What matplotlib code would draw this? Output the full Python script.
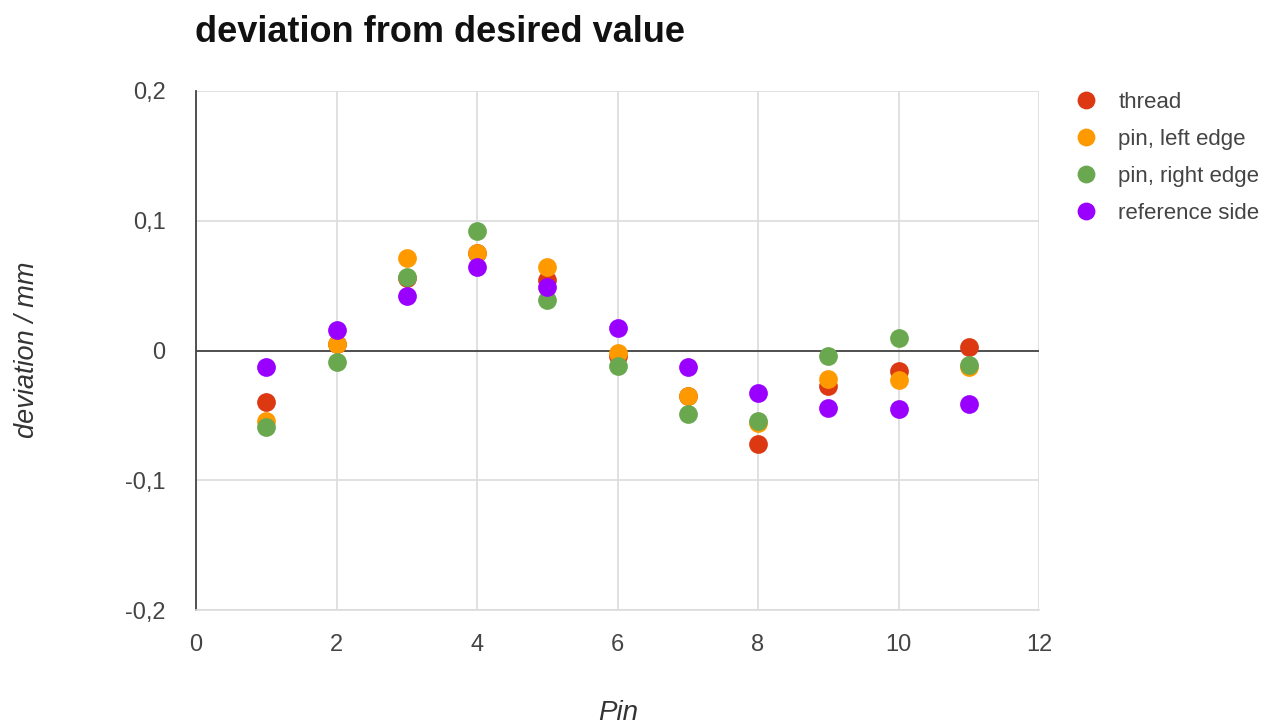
import matplotlib
matplotlib.use("Agg")
import matplotlib.pyplot as plt
from matplotlib.ticker import FuncFormatter

plt.rcParams['font.family'] = ['Liberation Sans', 'DejaVu Sans']

pins = [1, 2, 3, 4, 5, 6, 7, 8, 9, 10, 11]
thread = [-0.040, 0.005, 0.056, 0.075, 0.054, -0.004, -0.035, -0.072, -0.027, -0.016, 0.003]
pin_left = [-0.054, 0.005, 0.071, 0.075, 0.064, -0.002, -0.035, -0.056, -0.022, -0.023, -0.013]
pin_right = [-0.059, -0.009, 0.057, 0.092, 0.039, -0.012, -0.049, -0.054, -0.004, 0.010, -0.011]
reference = [-0.013, 0.016, 0.042, 0.064, 0.049, 0.017, -0.013, -0.033, -0.044, -0.045, -0.041]

series = [
    ("thread", thread, "#DC3912"),
    ("pin, left edge", pin_left, "#FF9900"),
    ("pin, right edge", pin_right, "#6AA84F"),
    ("reference side", reference, "#9900FF"),
]

x_ticks = [0, 2, 4, 6, 8, 10, 12]
y_ticks = [-0.2, -0.1, 0, 0.1, 0.2]

fig = plt.figure(figsize=(12.65, 7.28), dpi=100)
ax = fig.add_axes([196/1265, 1-610/728, (1039-196)/1265, (610-91)/728])

for name, vals, col in series:
    ax.plot(pins, vals, linestyle='none', marker='o', markersize=13.5,
            color=col, markeredgewidth=0, label=name, zorder=3)

ax.set_xlim(0, 12)
ax.set_ylim(-0.2, 0.2)
ax.set_xticks(x_ticks)
ax.set_yticks(y_ticks)
ax.grid(True, color='#dcdcdc', linewidth=1.2, zorder=0)
ax.axhline(0, color='#444444', linewidth=1.3, zorder=2)

def fmt(v, pos):
    if abs(v) < 1e-9:
        return "0"
    return ("%g" % round(v, 2)).replace('.', ',')
ax.yaxis.set_major_formatter(FuncFormatter(fmt))
ax.xaxis.set_major_formatter(FuncFormatter(lambda v, p: "%d" % v))

ax.tick_params(length=0, labelsize=17, labelcolor='#444444')
ax.tick_params(axis='y', pad=22)
ax.tick_params(axis='x', pad=17)
for s in ['top', 'right']:
    ax.spines[s].set_visible(False)
ax.spines['left'].set_color('#444444')
ax.spines['left'].set_linewidth(1.3)
ax.spines['bottom'].set_color('#dcdcdc')
ax.spines['bottom'].set_linewidth(1.2)

fig.text(195/1265, 1-42/728, "deviation from desired value", fontsize=26,
         fontweight='bold', va='baseline', ha='left', color='#111111')
fig.text(27/1265, 1-350/728, "deviation / mm", fontsize=19.5, style='italic',
         rotation=90, va='center', ha='center', color='#333333')
fig.text(618/1265, 1-713/728, "Pin", fontsize=20, style='italic',
         va='center', ha='center', color='#333333')

leg = ax.legend(loc='upper left', bbox_to_anchor=(1075/1265, 1-92/728),
                bbox_transform=fig.transFigure, frameon=False, fontsize=16,
                labelspacing=0.72, handletextpad=0.95, handlelength=1.0,
                markerscale=0.95, borderaxespad=0, borderpad=0)
for t in leg.get_texts():
    t.set_color('#444444')

fig.savefig("out.png", dpi=100)
